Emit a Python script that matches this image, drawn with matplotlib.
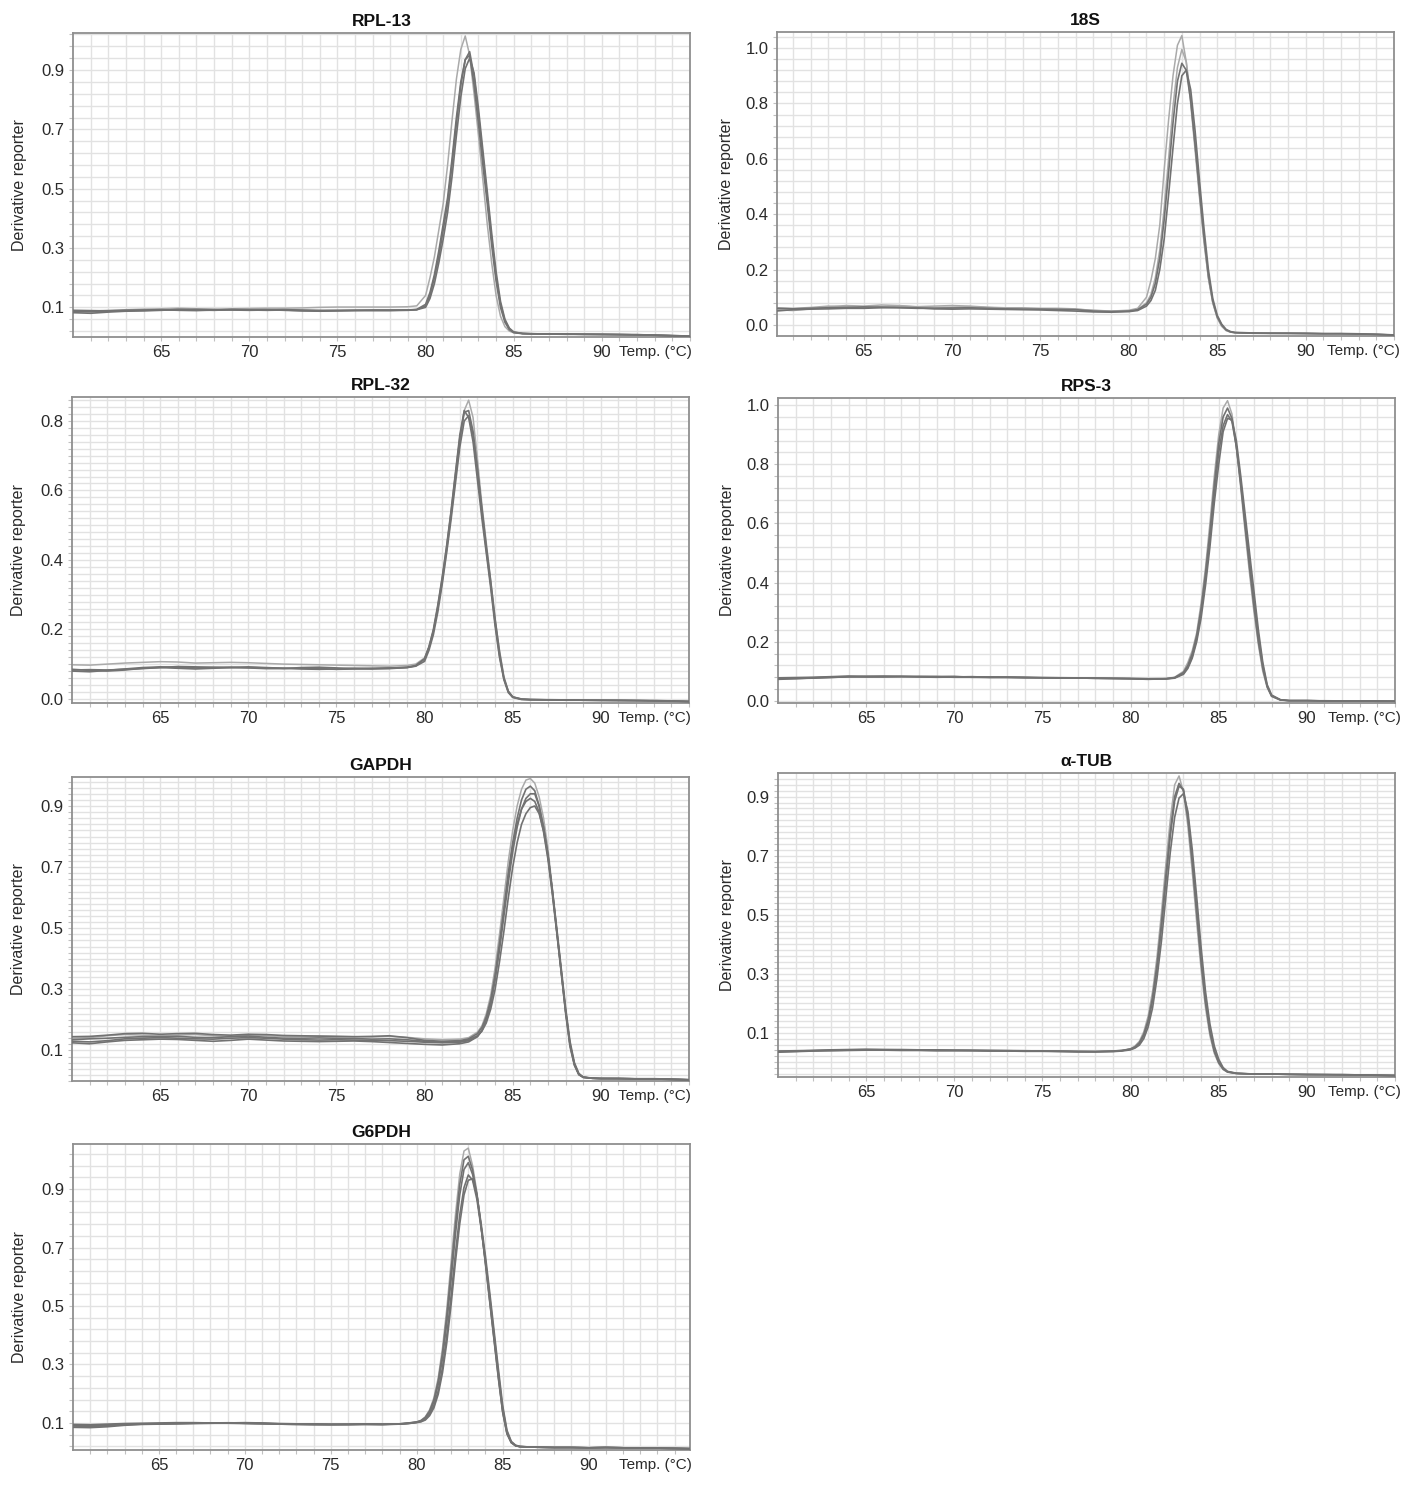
import matplotlib
matplotlib.use('Agg')
import matplotlib.pyplot as plt
from matplotlib.ticker import FixedLocator, NullFormatter
import numpy as np

plt.rcParams['font.family'] = ['Liberation Sans', 'DejaVu Sans']

# ---------------- data ----------------
GENES = ['RPL-13', '18S', 'RPL-32', 'RPS-3', 'GAPDH', 'α-TUB', 'G6PDH']
X_TICKS = [65, 70, 75, 80, 85, 90]

T_RPL13 = [60,61,62,63,64,65,66,67,68,69,70,71,72,73,74,75,76,77,78,79,79.5,
           80,80.25,80.5,80.75,81,81.25,81.5,81.75,82,82.25,82.5,82.75,83,83.25,83.5,83.75,84,84.25,84.5,84.75,
           85,85.5,86,87,88,89,90,91,92,93,94,95]
RPL13_A = [0.088,0.087,0.090,0.092,0.094,0.095,0.097,0.095,0.094,0.095,0.096,0.097,0.097,0.098,0.100,0.101,0.101,0.101,0.101,0.102,0.105,
           0.14,0.20,0.27,0.36,0.45,0.58,0.73,0.87,0.97,1.015,0.95,0.82,0.68,0.53,0.38,0.25,0.14,0.07,0.035,0.02,
           0.014,0.012,0.011,0.011,0.010,0.010,0.009,0.009,0.008,0.007,0.005,0.003]
RPL13_B = [0.082,0.080,0.084,0.087,0.088,0.090,0.093,0.091,0.090,0.092,0.091,0.090,0.091,0.089,0.088,0.089,0.090,0.090,0.090,0.091,0.093,
           0.11,0.15,0.21,0.29,0.38,0.47,0.60,0.74,0.86,0.935,0.95,0.85,0.72,0.58,0.45,0.31,0.19,0.10,0.05,0.025,
           0.015,0.011,0.010,0.010,0.009,0.009,0.008,0.008,0.007,0.006,0.004,0.002]
RPL13_C = [0.090,0.089,0.088,0.090,0.091,0.092,0.090,0.089,0.091,0.093,0.092,0.092,0.090,0.088,0.087,0.088,0.089,0.089,0.089,0.090,0.092,
           0.105,0.14,0.20,0.27,0.36,0.45,0.58,0.72,0.85,0.935,0.962,0.88,0.75,0.61,0.47,0.33,0.20,0.11,0.055,0.028,
           0.016,0.012,0.011,0.010,0.010,0.009,0.009,0.008,0.008,0.006,0.004,0.002]
RPL13_D = [0.086,0.085,0.087,0.089,0.090,0.091,0.092,0.093,0.092,0.091,0.090,0.091,0.092,0.091,0.090,0.090,0.090,0.091,0.091,0.091,0.092,
           0.10,0.13,0.18,0.25,0.33,0.42,0.54,0.68,0.81,0.905,0.94,0.89,0.77,0.63,0.49,0.35,0.22,0.12,0.06,0.03,
           0.017,0.012,0.011,0.010,0.010,0.009,0.009,0.008,0.007,0.006,0.005,0.003]

T_18S = [60,61,62,63,64,65,66,67,68,69,70,71,72,73,74,75,76,77,78,79,80,80.5,
         81,81.25,81.5,81.75,82,82.25,82.5,82.75,83,83.25,83.5,83.75,84,84.25,84.5,84.75,85,85.25,85.5,85.75,
         86,86.5,87,88,89,90,91,92,93,94,95]
S18_A = [0.055,0.052,0.058,0.065,0.070,0.068,0.072,0.070,0.066,0.068,0.070,0.068,0.064,0.062,0.062,0.060,0.060,0.058,0.052,0.050,0.053,0.060,
         0.10,0.16,0.24,0.36,0.56,0.74,0.90,1.01,1.045,0.95,0.80,0.63,0.46,0.30,0.17,0.08,0.025,-0.005,-0.02,-0.026,
         -0.028,-0.030,-0.030,-0.031,-0.031,-0.032,-0.032,-0.032,-0.033,-0.034,-0.036]
S18_B = [0.060,0.058,0.060,0.062,0.063,0.065,0.064,0.062,0.060,0.060,0.061,0.062,0.060,0.058,0.057,0.057,0.056,0.055,0.050,0.048,0.050,0.055,
         0.075,0.10,0.15,0.24,0.38,0.55,0.73,0.88,0.945,0.92,0.81,0.65,0.48,0.32,0.18,0.085,0.03,0.0,-0.018,-0.025,
         -0.028,-0.029,-0.030,-0.030,-0.030,-0.031,-0.032,-0.031,-0.032,-0.034,-0.037]
S18_C = [0.050,0.055,0.057,0.058,0.060,0.060,0.062,0.063,0.062,0.058,0.057,0.058,0.057,0.056,0.055,0.054,0.052,0.050,0.047,0.046,0.048,0.052,
         0.068,0.088,0.125,0.20,0.31,0.47,0.64,0.80,0.90,0.92,0.85,0.70,0.52,0.35,0.20,0.095,0.035,0.003,-0.016,-0.024,
         -0.027,-0.028,-0.029,-0.030,-0.030,-0.030,-0.031,-0.032,-0.033,-0.034,-0.036]
S18_D = [0.062,0.060,0.063,0.068,0.066,0.063,0.066,0.068,0.065,0.063,0.064,0.066,0.063,0.060,0.058,0.058,0.057,0.056,0.053,0.050,0.051,0.056,
         0.08,0.11,0.17,0.27,0.42,0.60,0.79,0.93,0.995,0.95,0.82,0.65,0.47,0.31,0.17,0.08,0.028,-0.002,-0.02,-0.026,
         -0.028,-0.030,-0.030,-0.030,-0.031,-0.031,-0.032,-0.032,-0.033,-0.035,-0.037]

T_RPL32 = list(T_RPL13)
RPL32_A = [0.098,0.097,0.100,0.103,0.105,0.107,0.106,0.103,0.104,0.105,0.104,0.102,0.100,0.099,0.098,0.097,0.096,0.095,0.094,0.096,0.100,
           0.118,0.15,0.195,0.26,0.335,0.425,0.525,0.635,0.74,0.83,0.86,0.81,0.69,0.56,0.45,0.34,0.23,0.14,0.065,0.022,
           0.005,0.0,-0.002,-0.002,-0.003,-0.003,-0.004,-0.004,-0.005,-0.005,-0.006,-0.008]
RPL32_B = [0.080,0.078,0.082,0.086,0.090,0.092,0.091,0.089,0.090,0.091,0.090,0.089,0.088,0.088,0.087,0.085,0.086,0.087,0.087,0.090,0.095,
           0.115,0.15,0.20,0.27,0.35,0.44,0.54,0.65,0.76,0.83,0.81,0.74,0.63,0.52,0.42,0.32,0.21,0.12,0.055,0.018,
           0.004,-0.002,-0.003,-0.003,-0.004,-0.004,-0.005,-0.005,-0.005,-0.006,-0.007,-0.008]
RPL32_C = [0.083,0.084,0.083,0.085,0.087,0.090,0.093,0.092,0.091,0.090,0.092,0.090,0.088,0.086,0.085,0.086,0.088,0.088,0.089,0.090,0.094,
           0.108,0.14,0.185,0.25,0.33,0.42,0.515,0.62,0.725,0.80,0.815,0.76,0.66,0.55,0.44,0.34,0.23,0.135,0.06,0.022,
           0.006,-0.001,-0.002,-0.003,-0.003,-0.004,-0.004,-0.005,-0.005,-0.006,-0.006,-0.008]
RPL32_D = [0.085,0.082,0.080,0.083,0.088,0.090,0.088,0.086,0.088,0.090,0.089,0.087,0.087,0.090,0.091,0.089,0.087,0.086,0.088,0.091,0.096,
           0.115,0.148,0.195,0.265,0.345,0.435,0.535,0.645,0.75,0.825,0.83,0.77,0.66,0.54,0.43,0.33,0.22,0.125,0.058,0.02,
           0.005,-0.001,-0.002,-0.003,-0.003,-0.004,-0.004,-0.004,-0.005,-0.005,-0.006,-0.007]

T_RPS3 = [60,61,62,63,64,65,66,67,68,69,70,71,72,73,74,75,76,77,78,79,80,81,82,82.5,
          83,83.25,83.5,83.75,84,84.25,84.5,84.75,85,85.25,85.5,85.75,86,86.25,86.5,86.75,87,87.25,87.5,87.75,88,
          88.5,89,90,91,92,93,94,95]
RPS3_A = [0.075,0.077,0.079,0.081,0.083,0.084,0.083,0.082,0.082,0.083,0.082,0.081,0.081,0.080,0.080,0.079,0.079,0.078,0.078,0.077,0.076,0.075,0.076,0.080,
          0.10,0.13,0.17,0.23,0.33,0.45,0.60,0.76,0.90,0.99,1.015,0.97,0.86,0.72,0.57,0.43,0.30,0.19,0.10,0.045,0.015,
          0.003,0.001,0.001,0.001,0.0,0.0,0.0,-0.001]
RPS3_B = [0.073,0.075,0.078,0.080,0.081,0.082,0.082,0.083,0.081,0.080,0.081,0.082,0.080,0.079,0.078,0.079,0.078,0.077,0.077,0.076,0.075,0.074,0.074,0.077,
          0.09,0.11,0.145,0.20,0.28,0.39,0.52,0.67,0.80,0.91,0.955,0.95,0.88,0.76,0.63,0.50,0.37,0.24,0.13,0.055,0.02,
          0.004,0.001,0.001,0.0,0.0,0.0,-0.001,-0.001]
RPS3_C = [0.078,0.079,0.080,0.082,0.084,0.083,0.084,0.083,0.082,0.082,0.083,0.080,0.079,0.080,0.079,0.078,0.078,0.078,0.076,0.076,0.075,0.073,0.075,0.078,
          0.093,0.115,0.15,0.21,0.30,0.41,0.55,0.70,0.84,0.93,0.968,0.945,0.86,0.74,0.60,0.47,0.34,0.22,0.12,0.05,0.018,
          0.004,0.001,0.001,0.0,0.0,0.0,-0.001,-0.001]
RPS3_D = [0.076,0.076,0.077,0.079,0.082,0.081,0.081,0.082,0.083,0.082,0.080,0.080,0.081,0.081,0.080,0.078,0.077,0.077,0.077,0.076,0.076,0.075,0.075,0.079,
          0.096,0.12,0.16,0.22,0.31,0.43,0.57,0.73,0.87,0.96,0.99,0.955,0.86,0.73,0.59,0.45,0.32,0.20,0.11,0.048,0.016,
          0.003,0.001,0.001,0.0,0.0,0.0,0.0,-0.001]

T_GAPDH = [60,61,62,63,64,65,66,67,68,69,70,71,72,73,74,75,76,77,78,79,80,81,82,82.5,
           83,83.25,83.5,83.75,84,84.25,84.5,84.75,85,85.25,85.5,85.75,86,86.25,86.5,86.75,87,87.25,87.5,87.75,88,88.25,88.5,88.75,
           89,89.5,90,91,92,93,94,95]
GAPDH_A = [0.140,0.142,0.148,0.152,0.150,0.148,0.150,0.152,0.148,0.146,0.150,0.148,0.145,0.146,0.147,0.146,0.145,0.144,0.146,0.143,0.138,0.135,0.137,0.142,
           0.16,0.18,0.22,0.28,0.37,0.48,0.60,0.72,0.82,0.90,0.955,0.985,0.99,0.975,0.93,0.86,0.76,0.63,0.49,0.36,0.22,0.11,0.05,0.02,
           0.013,0.010,0.009,0.008,0.008,0.008,0.006,0.004]
GAPDH_B = [0.130,0.128,0.132,0.138,0.140,0.142,0.140,0.138,0.137,0.140,0.142,0.140,0.137,0.135,0.134,0.135,0.134,0.133,0.132,0.130,0.127,0.125,0.127,0.132,
           0.147,0.165,0.20,0.25,0.33,0.43,0.54,0.65,0.75,0.83,0.89,0.925,0.94,0.94,0.90,0.83,0.74,0.62,0.49,0.36,0.23,0.12,0.055,0.022,
           0.012,0.009,0.008,0.008,0.007,0.007,0.006,0.004]
GAPDH_C = [0.135,0.138,0.140,0.143,0.145,0.145,0.146,0.143,0.142,0.145,0.147,0.143,0.140,0.140,0.141,0.140,0.139,0.137,0.138,0.135,0.130,0.128,0.130,0.135,
           0.148,0.163,0.19,0.235,0.30,0.39,0.49,0.60,0.70,0.78,0.84,0.875,0.895,0.90,0.875,0.82,0.735,0.625,0.50,0.37,0.24,0.13,0.06,0.025,
           0.013,0.009,0.008,0.008,0.007,0.007,0.006,0.004]
GAPDH_D = [0.145,0.146,0.150,0.155,0.156,0.153,0.155,0.156,0.152,0.150,0.153,0.152,0.149,0.148,0.147,0.146,0.145,0.146,0.148,0.142,0.133,0.130,0.132,0.138,
           0.155,0.175,0.21,0.265,0.345,0.45,0.56,0.67,0.77,0.84,0.89,0.915,0.925,0.915,0.88,0.815,0.725,0.61,0.485,0.355,0.225,0.115,0.052,0.021,
           0.012,0.009,0.008,0.008,0.007,0.007,0.005,0.004]
GAPDH_E = [0.125,0.122,0.128,0.133,0.135,0.137,0.136,0.133,0.130,0.133,0.137,0.134,0.131,0.130,0.129,0.130,0.131,0.129,0.126,0.123,0.120,0.118,0.122,0.128,
           0.145,0.165,0.20,0.255,0.34,0.44,0.56,0.68,0.78,0.86,0.92,0.955,0.965,0.95,0.90,0.83,0.74,0.62,0.49,0.36,0.23,0.12,0.055,0.022,
           0.012,0.009,0.008,0.008,0.007,0.007,0.005,0.004]

T_TUB = [60,61,62,63,64,65,66,67,68,69,70,71,72,73,74,75,76,77,78,79,79.5,
         80,80.25,80.5,80.75,81,81.25,81.5,81.75,82,82.25,82.5,82.75,83,83.25,83.5,83.75,84,84.25,84.5,84.75,85,85.25,
         85.5,86,87,88,89,90,91,92,93,94,95]
TUB_A = [0.037,0.038,0.040,0.041,0.042,0.043,0.043,0.042,0.042,0.041,0.041,0.041,0.040,0.040,0.039,0.039,0.038,0.037,0.037,0.038,0.040,
         0.046,0.055,0.071,0.103,0.157,0.24,0.357,0.505,0.67,0.82,0.94,0.97,0.915,0.80,0.645,0.475,0.315,0.185,0.09,0.03,-0.005,-0.025,
         -0.034,-0.038,-0.040,-0.040,-0.041,-0.042,-0.042,-0.043,-0.043,-0.044,-0.045]
TUB_B = [0.036,0.037,0.039,0.040,0.041,0.042,0.042,0.041,0.041,0.040,0.040,0.040,0.039,0.039,0.038,0.038,0.037,0.036,0.036,0.037,0.039,
         0.045,0.052,0.066,0.095,0.143,0.22,0.33,0.47,0.63,0.78,0.90,0.945,0.92,0.826,0.677,0.507,0.341,0.203,0.103,0.037,-0.001,-0.023,
         -0.033,-0.038,-0.040,-0.040,-0.041,-0.042,-0.042,-0.043,-0.043,-0.044,-0.045]
TUB_C = [0.034,0.036,0.038,0.039,0.040,0.041,0.041,0.040,0.040,0.039,0.039,0.039,0.038,0.038,0.037,0.037,0.036,0.035,0.035,0.036,0.038,
         0.042,0.048,0.058,0.08,0.12,0.185,0.285,0.41,0.56,0.71,0.83,0.895,0.91,0.85,0.72,0.56,0.39,0.24,0.13,0.055,0.01,-0.018,
         -0.031,-0.037,-0.040,-0.040,-0.041,-0.041,-0.042,-0.042,-0.043,-0.044,-0.045]
TUB_D = [0.038,0.039,0.040,0.042,0.043,0.044,0.043,0.043,0.042,0.042,0.041,0.040,0.040,0.039,0.039,0.038,0.038,0.037,0.036,0.038,0.040,
         0.044,0.05,0.063,0.09,0.135,0.21,0.315,0.455,0.61,0.765,0.885,0.935,0.925,0.835,0.69,0.52,0.352,0.212,0.108,0.04,0.0,-0.022,
         -0.032,-0.038,-0.040,-0.040,-0.041,-0.042,-0.042,-0.042,-0.043,-0.044,-0.045]

T_G6PDH = [60,61,62,63,64,65,66,67,68,69,70,71,72,73,74,75,76,77,78,79,79.5,
           80,80.25,80.5,80.75,81,81.25,81.5,81.75,82,82.25,82.5,82.75,83,83.25,83.5,83.75,84,84.25,84.5,84.75,85,85.25,85.5,85.75,86,
           86.5,87,88,89,90,91,92,93,94,95,96]
G6_A = [0.088,0.086,0.090,0.095,0.097,0.098,0.099,0.100,0.100,0.101,0.100,0.099,0.097,0.096,0.096,0.095,0.095,0.096,0.095,0.096,0.099,
        0.104,0.109,0.121,0.145,0.186,0.254,0.356,0.49,0.65,0.81,0.95,1.03,1.04,0.98,0.89,0.77,0.64,0.51,0.38,0.25,0.135,0.062,0.032,0.022,0.019,
        0.018,0.017,0.016,0.016,0.015,0.016,0.015,0.014,0.014,0.013,0.012]
G6_B = [0.092,0.090,0.093,0.096,0.096,0.097,0.098,0.098,0.099,0.099,0.098,0.097,0.096,0.095,0.094,0.094,0.094,0.095,0.095,0.097,0.099,
        0.103,0.107,0.117,0.137,0.172,0.232,0.322,0.443,0.59,0.743,0.879,0.967,0.99,0.95,0.88,0.77,0.65,0.52,0.39,0.26,0.14,0.065,0.033,0.022,0.019,
        0.018,0.017,0.016,0.016,0.015,0.016,0.015,0.014,0.014,0.013,0.012]
G6_C = [0.085,0.084,0.087,0.092,0.095,0.096,0.098,0.099,0.100,0.100,0.099,0.098,0.097,0.096,0.095,0.095,0.095,0.096,0.096,0.096,0.098,
        0.102,0.105,0.113,0.13,0.16,0.21,0.29,0.40,0.535,0.68,0.81,0.905,0.948,0.93,0.865,0.765,0.655,0.53,0.40,0.27,0.15,0.07,0.035,0.023,0.019,
        0.018,0.017,0.016,0.016,0.015,0.016,0.015,0.014,0.014,0.013,0.012]
G6_D = [0.095,0.094,0.096,0.098,0.099,0.100,0.101,0.101,0.100,0.100,0.101,0.100,0.098,0.097,0.097,0.096,0.096,0.097,0.096,0.097,0.100,
        0.103,0.108,0.119,0.141,0.179,0.243,0.339,0.467,0.62,0.777,0.915,1.0,1.012,0.965,0.88,0.77,0.645,0.515,0.385,0.255,0.138,0.063,0.033,0.022,0.019,
        0.018,0.017,0.016,0.016,0.015,0.016,0.015,0.014,0.014,0.013,0.012]
G6_E = [0.090,0.088,0.091,0.094,0.096,0.097,0.097,0.099,0.099,0.100,0.099,0.098,0.096,0.095,0.095,0.094,0.095,0.095,0.094,0.096,0.098,
        0.101,0.104,0.11,0.125,0.152,0.198,0.272,0.375,0.505,0.65,0.78,0.88,0.93,0.935,0.88,0.78,0.67,0.545,0.415,0.285,0.16,0.075,0.037,0.024,0.02,
        0.018,0.017,0.016,0.016,0.015,0.016,0.015,0.014,0.014,0.013,0.012]

# y tick labels per panel
YT_RPL13 = [0.1, 0.3, 0.5, 0.7, 0.9]
YT_18S = [0.0, 0.2, 0.4, 0.6, 0.8, 1.0]
YT_RPL32 = [0.0, 0.2, 0.4, 0.6, 0.8]
YT_RPS3 = [0.0, 0.2, 0.4, 0.6, 0.8, 1.0]
YT_GAPDH = [0.1, 0.3, 0.5, 0.7, 0.9]
YT_TUB = [0.1, 0.3, 0.5, 0.7, 0.9]
YT_G6PDH = [0.1, 0.3, 0.5, 0.7, 0.9]

# ---------------- layout / style ----------------
W, H = 1412, 1491
DARK = '#727272'
LIGHT = '#aaaaaa'
GRID = '#e2e2e2'
SPINE = '#8f8f8f'
TXT = '#2a2a2a'


def frect(l, t, r, b):
    return [l / W, 1 - b / H, (r - l) / W, (b - t) / H]


panels = [
    dict(title=GENES[0], px=(73, 33, 690, 337), T=T_RPL13, reps=[RPL13_A, RPL13_B, RPL13_C, RPL13_D],
         light=[0], xlim=(60, 95), ylim=(0.0, 1.025), yt=YT_RPL13, minor=(0.02, 0.04), col=0),
    dict(title=GENES[1], px=(777, 32, 1394, 336), T=T_18S, reps=[S18_A, S18_D, S18_B, S18_C],
         light=[0, 1], xlim=(60.1, 95), ylim=(-0.04, 1.058), yt=YT_18S, minor=(0.0, 0.04), col=1),
    dict(title=GENES[2], px=(72, 397, 689, 703), T=T_RPL32, reps=[RPL32_A, RPL32_B, RPL32_C, RPL32_D],
         light=[0], xlim=(60, 95), ylim=(-0.012, 0.869), yt=YT_RPL32, minor=(0.0, 0.02), col=0),
    dict(title=GENES[3], px=(778, 398, 1395, 703), T=T_RPS3, reps=[RPS3_A, RPS3_D, RPS3_B, RPS3_C],
         light=[0], xlim=(60, 95), ylim=(-0.007, 1.024), yt=YT_RPS3, minor=(0.0, 0.04), col=1),
    dict(title=GENES[4], px=(72, 777, 689, 1081), T=T_GAPDH, reps=[GAPDH_A, GAPDH_E, GAPDH_B, GAPDH_C, GAPDH_D],
         light=[0], xlim=(60, 95), ylim=(0.0, 0.995), yt=YT_GAPDH, minor=(0.0, 0.02), col=0),
    dict(title=GENES[5], px=(778, 773, 1395, 1077), T=T_TUB, reps=[TUB_A, TUB_B, TUB_C, TUB_D],
         light=[0], xlim=(60, 95), ylim=(-0.05, 0.98), yt=YT_TUB, minor=(-0.04, 0.02), col=1),
    dict(title=GENES[6], px=(73, 1144, 690, 1450), T=T_G6PDH, reps=[G6_A, G6_D, G6_B, G6_C, G6_E],
         light=[0], xlim=(60, 95.9), ylim=(0.0075, 1.054), yt=YT_G6PDH, minor=(0.02, 0.04), col=0),
]

fig = plt.figure(figsize=(W / 100, H / 100), dpi=100)

for p in panels:
    ax = fig.add_axes(frect(*p['px']))
    ax.set_facecolor('white')
    ax.set_axisbelow(True)
    # curves: light ones first
    for i, rep in enumerate(p['reps']):
        if i in p['light']:
            ax.plot(p['T'], rep, color=LIGHT, lw=1.1, zorder=2)
    for i, rep in enumerate(p['reps']):
        if i not in p['light']:
            ax.plot(p['T'], rep, color=DARK, lw=1.2, zorder=3)

    ax.set_xlim(*p['xlim'])
    ax.set_ylim(*p['ylim'])

    # x ticks / grid every degree
    ax.set_xticks(X_TICKS)
    ax.set_xticklabels([str(v) for v in X_TICKS])
    ax.xaxis.set_minor_locator(FixedLocator(np.arange(61, 96, 1)))
    # y ticks / grid
    ax.set_yticks(p['yt'])
    ax.set_yticklabels(['%.1f' % v for v in p['yt']])
    s0, st = p['minor']
    ax.yaxis.set_minor_locator(FixedLocator(np.arange(s0, p['ylim'][1], st)))
    ax.yaxis.set_minor_formatter(NullFormatter())
    ax.xaxis.set_minor_formatter(NullFormatter())

    ax.grid(True, which='both', color=GRID, lw=1.0)
    ax.tick_params(which='both', direction='out', length=3, width=0.8, color='#c0c0c0',
                   labelsize=12, labelcolor=TXT, pad=3)
    for sp in ax.spines.values():
        sp.set_color(SPINE)
        sp.set_linewidth(1.3)

    ax.set_title(p['title'], fontsize=12.5, fontweight='bold', pad=5, color='#111111')
    ax.set_ylabel('Derivative reporter', fontsize=11.5, color=TXT)
    ax.yaxis.set_label_coords(-0.074 if p['col'] == 0 else -0.069, 0.5)
    ax.annotate('Temp. (°C)', xy=(1, 0), xycoords='axes fraction', xytext=(4 if p['col'] == 1 else 1, -6),
                textcoords='offset points', ha='right', va='top', fontsize=11, color=TXT)

fig.savefig('out.png', dpi=100, facecolor='white')
